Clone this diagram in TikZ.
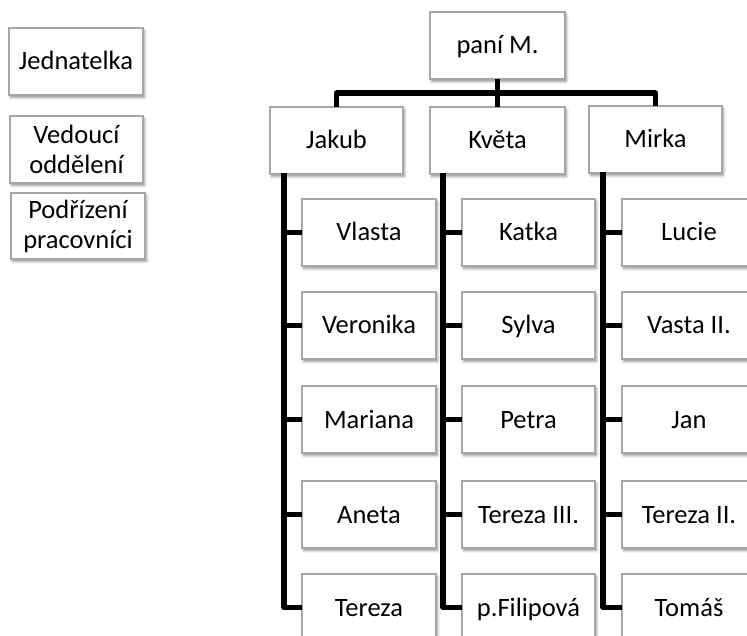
\documentclass[tikz,border=0pt]{standalone}
\usepackage{fontspec}
\setmainfont{Carlito}
\usetikzlibrary{shadows.blur}
\begin{document}
\begin{tikzpicture}[x=1pt,y=-1pt,
  box/.style={draw=black!35, line width=1.3pt, fill=white, rectangle, anchor=north west,
    inner sep=0pt, outer sep=0pt, align=center,
    font=\fontsize{26.5}{30}\selectfont,
    blur shadow={shadow xshift=1.5pt, shadow yshift=-2.5pt, shadow blur radius=2.5pt, shadow opacity=45}},
  one/.style={text height=17pt, text depth=0pt},
  wbox/.style={box, minimum width=133pt, minimum height=67pt},
  cbox/.style={box, one, minimum width=134pt, minimum height=67pt},
  conn/.style={line width=5.5pt, line join=round, line cap=butt}]
\useasboundingbox (0,0) rectangle (747,636);
\clip (0,0) rectangle (747,636);
% legend
\node[wbox, one, minimum width=134pt] (leg1) at (9,28) {Jednatelka};
\node[wbox] (leg2) at (10,116) {Vedoucí\\oddělení};
\node[wbox, minimum width=134pt, minimum height=66pt] (leg3) at (11,193) {Podřízení\\pracovníci};
% top
\node[wbox, one, minimum width=135pt] (top) at (430,12) {paní M.};
\node[wbox, one] (jakub) at (270,107) {Jakub};
\node[wbox, one, minimum width=135pt] (kveta) at (430,107) {Květa};
\node[wbox, one] (mirka) at (589,106) {Mirka};
% column 1
\node[cbox] (a1) at (302,199) {Vlasta};
\node[cbox] (a2) at (302,292) {Veronika};
\node[cbox] (a3) at (302,386) {Mariana};
\node[cbox] (a4) at (302,481) {Aneta};
\node[cbox] (a5) at (302,574) {Tereza};
% column 2
\node[cbox, minimum width=133pt] (b1) at (462,199) {Katka};
\node[cbox, minimum width=133pt] (b2) at (462,292) {Sylva};
\node[cbox, minimum width=133pt] (b3) at (462,386) {Petra};
\node[cbox, minimum width=133pt] (b4) at (462,481) {Tereza III.};
\node[cbox, minimum width=133pt] (b5) at (462,574) {p.Filipová};
% column 3
\node[cbox] (c1) at (622,199) {Lucie};
\node[cbox] (c2) at (622,292) {Vasta II.};
\node[cbox] (c3) at (622,386) {Jan};
\node[cbox] (c4) at (622,481) {Tereza II.};
\node[cbox] (c5) at (622,574) {Tomáš};
% connectors top
\coordinate (hub) at (497,93);
\draw[conn] (top.south) -- (kveta.north);
\draw[conn] (jakub.north) |- (hub) -| (mirka.north);
% trunks
\coordinate (ta) at (284,173);
\coordinate (tb) at (443,173);
\coordinate (tc) at (603,172);
\draw[conn] (ta) |- (a5.west);
\draw[conn] (tb) |- (b5.west);
\draw[conn] (tc) |- (c5.west);
\foreach \i in {1,2,3,4}{
  \draw[conn] (a\i.west) -- (a\i.west -| ta);
  \draw[conn] (b\i.west) -- (b\i.west -| tb);
  \draw[conn] (c\i.west) -- (c\i.west -| tc);
}
\end{tikzpicture}
\end{document}
